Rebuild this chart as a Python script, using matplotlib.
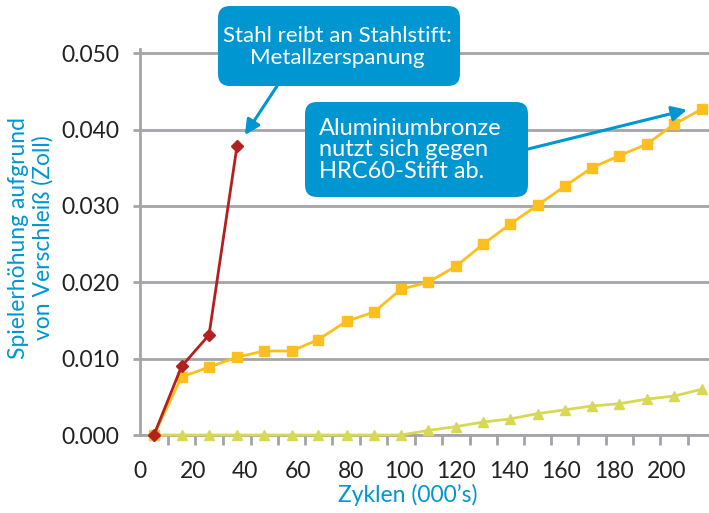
import matplotlib.pyplot as plt
from matplotlib.patches import FancyBboxPatch

plt.rcParams['font.family'] = ['Lato', 'DejaVu Sans']

# Daten (Zyklen in Tausend, Spiel in Zoll)
zyklen = [5.3, 15.8, 26.2, 36.8, 47.1, 57.6, 67.7, 78.4, 88.8, 99.1, 109.4,
          119.9, 130.3, 140.4, 150.9, 161.3, 171.5, 182.0, 192.4, 202.7, 213.3]
stahl = [0.0, 0.0090, 0.0131, 0.0378]
alubronze = [0.0, 0.0076, 0.0089, 0.0102, 0.0110, 0.0110, 0.0125, 0.0149, 0.0161,
             0.0191, 0.0200, 0.0221, 0.0250, 0.0276, 0.0301, 0.0326, 0.0350,
             0.0366, 0.0381, 0.0407, 0.0427]
gruen = [0.0, 0.0, 0.0, 0.0, 0.0, 0.0, 0.0, 0.0, 0.0, 0.0, 0.0006, 0.0011,
         0.0017, 0.0021, 0.0028, 0.0033, 0.0038, 0.0041, 0.0047, 0.0051, 0.0060]
x_labels = [0, 20, 40, 60, 80, 100, 120, 140, 160, 180, 200]
y_ticks = [0.0, 0.01, 0.02, 0.03, 0.04, 0.05]

blau = '#0096d1'
grau = '#a5a5a9'

fig = plt.figure(figsize=(7.09, 5.13), dpi=100)
ax = fig.add_axes([140 / 709, 78 / 513, 569 / 709, 385.5 / 513])

ax.plot(zyklen, alubronze, color='#fcbf1e', lw=2, marker='s', ms=7.2,
        clip_on=False, zorder=3)
ax.plot(zyklen, gruen, color='#d7d955', lw=2, marker='^', ms=7.5,
        clip_on=False, zorder=4)
ax.plot(zyklen[:len(stahl)], stahl, color='#b3201e', lw=2, marker='D', ms=6,
        clip_on=False, zorder=5)

ax.set_xlim(0, 216)
ax.set_ylim(0, 0.0505)

# Achsen
for s in ['top', 'right']:
    ax.spines[s].set_visible(False)
for s in ['left', 'bottom']:
    ax.spines[s].set_color(grau)
    ax.spines[s].set_linewidth(2)
    ax.spines[s].set_zorder(1)

ax.set_yticks(y_ticks)
ax.set_yticklabels(['%.3f' % v for v in y_ticks])
ax.yaxis.grid(True, color=grau, lw=2, zorder=0)
ax.set_axisbelow(True)
ax.tick_params(axis='y', length=5, width=2, color=grau, pad=10,
               labelsize=16.5, labelcolor='#222222')

ax.set_xticks(x_labels)
ax.set_xticklabels([str(v) for v in x_labels])
minor = [0] + [(zyklen[i] + zyklen[i + 1]) / 2 for i in range(len(zyklen) - 1)]
ax.set_xticks(minor, minor=True)
ax.tick_params(axis='x', which='major', length=0, pad=19,
               labelsize=16.5, labelcolor='#222222')
ax.tick_params(axis='x', which='minor', length=7, width=2, color=grau)

fig.text(408 / 709, 1 - 495 / 513, "Zyklen (000’s)", color=blau, fontsize=16.5,
         ha='center', va='center')
fig.text(31 / 709, 1 - 238 / 513, 'Spielerhöhung aufgrund\nvon Verschleiß (Zoll)',
         color=blau, fontsize=16.5, rotation=90, ha='center', va='center',
         linespacing=1.2, multialignment='center')

# Pfeile
ax.annotate('', xy=(39.8, 0.0393), xytext=(281, 513 - 80),
            textcoords='figure pixels',
            arrowprops=dict(arrowstyle='-|>,head_length=0.9,head_width=0.45',
                            color=blau, lw=2.2, shrinkA=0, shrinkB=0), zorder=6)
ax.annotate('', xy=(207.6, 0.0426), xytext=(520, 513 - 151),
            textcoords='figure pixels',
            arrowprops=dict(arrowstyle='-|>,head_length=0.9,head_width=0.45',
                            color=blau, lw=2.2, shrinkA=0, shrinkB=0), zorder=6)

# Sprechblasen (in Zoll ab unten links)
def kasten(x0, y0, x1, y1):
    p = FancyBboxPatch((x0 / 100, (513 - y1) / 100), (x1 - x0) / 100, (y1 - y0) / 100,
                       boxstyle='round,pad=0,rounding_size=0.12',
                       transform=fig.dpi_scale_trans, facecolor=blau,
                       edgecolor='none', zorder=10)
    fig.add_artist(p)

kasten(218, 6, 460, 86)
fig.text(337 / 709, 1 - 47 / 513, 'Stahl reibt an Stahlstift:\nMetallzerspanung',
         color='white', fontsize=16, ha='center', va='center',
         multialignment='center', linespacing=1.15, zorder=11)

kasten(305, 102, 528, 197)
fig.text(319 / 709, 1 - 150 / 513, 'Aluminiumbronze\nnutzt sich gegen\nHRC60-Stift ab.',
         color='white', fontsize=17, ha='left', va='center',
         linespacing=1.05, zorder=11)

fig.savefig('out.png', dpi=100)
